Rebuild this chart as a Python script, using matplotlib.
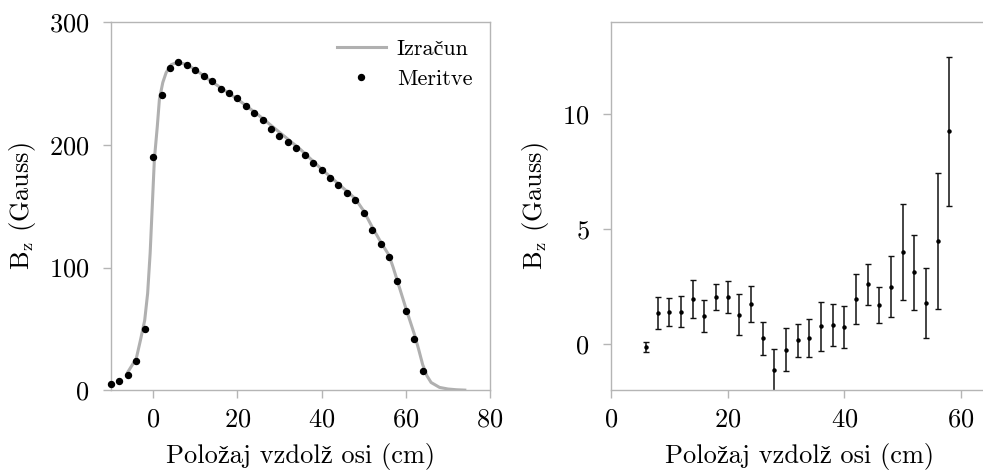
import numpy as np
import matplotlib
matplotlib.use('Agg')
import matplotlib.pyplot as plt

plt.rcParams['font.family'] = ['cmr10', 'Liberation Serif']
plt.rcParams['mathtext.fontset'] = 'cm'
plt.rcParams['axes.formatter.use_mathtext'] = True

# meritve (levo)
pos = [-10, -8, -6, -4, -2, 0, 2, 4, 6, 8, 10, 12, 14, 16, 18, 20, 22, 24, 26, 28,
       30, 32, 34, 36, 38, 40, 42, 44, 46, 48, 50, 52, 54, 56, 58, 60, 62, 64]
bz = [5.0, 7.7, 12.8, 24.0, 50.0, 190, 240, 262, 267, 264.4, 260.3, 256, 251.3, 245,
      241.8, 237.7, 231.5, 226, 219.8, 213, 207.3, 202.2, 197.5, 191.6, 184.8, 179,
      173, 166.8, 160.6, 154.9, 144.6, 130.2, 119.3, 108.2, 89.2, 65, 42.1, 15.8]

# izracun (levo)
pos_calc = [-6, -4, -3, -2, -1.3, -0.7, -0.2, 0.3, 1.0, 1.5, 2.3, 3.1, 4.3, 5.9, 8,
            10, 14, 20, 25, 30, 35, 40, 44, 46, 48, 50, 52, 54, 56, 57, 58, 60, 62,
            63, 64, 65, 66, 68, 70, 72, 74]
bz_calc = [15, 26, 41, 57, 79, 112, 150, 188, 215, 237, 250.5, 258.6, 265, 267, 265,
           261, 251, 237, 224, 210, 196, 180, 168, 162, 156, 146, 133, 121, 110, 100,
           89, 67, 46, 34, 21, 12, 6.5, 2.5, 1.2, 0.6, 0.3]

# razlika (desno)
pos_r = [6, 8, 10, 12, 14, 16, 18, 20, 22, 24, 26, 28, 30, 32, 34, 36, 38, 40, 42,
         44, 46, 48, 50, 52, 54, 56, 58]
bz_r = [-0.11, 1.35, 1.41, 1.42, 1.97, 1.24, 2.04, 2.05, 1.29, 1.74, 0.26, -1.12,
        -0.23, 0.17, 0.27, 0.78, 0.85, 0.75, 1.97, 2.60, 1.71, 2.51, 4.02, 3.13,
        1.81, 4.48, 9.24]
err_r = [0.2, 0.69, 0.6, 0.68, 0.82, 0.7, 0.57, 0.71, 0.9, 0.78, 0.72, 0.9, 0.93,
         0.73, 0.82, 1.05, 0.91, 0.9, 1.1, 0.88, 0.79, 1.33, 2.08, 1.63, 1.52, 2.96,
         3.22]

gray = '#b5b5b5'
fs = 19

fig = plt.figure(figsize=(9.831, 4.751), dpi=100)
ax1 = fig.add_axes([0.1129, 0.1779, 0.3856, 0.7764])
ax2 = fig.add_axes([0.6216, 0.1779, 0.4033, 0.7764])

ax1.plot(pos_calc, bz_calc, color='#b0b0b0', lw=2.2, label='Izračun', zorder=2)
ax1.plot(pos, bz, 'o', color='black', ms=4.3, label='Meritve', zorder=3, clip_on=False)
ax1.set_xlim(-10, 80)
ax1.set_ylim(0, 300)
ax1.set_xticks([0, 20, 40, 60, 80])
ax1.set_yticks([0, 100, 200, 300])
ax1.legend(loc='upper right', frameon=False, fontsize=16, handlelength=2.2,
           borderaxespad=0.4, labelspacing=0.45, handletextpad=0.5)

ax2.errorbar(pos_r, bz_r, yerr=err_r, fmt='o', color='black', ms=2.2, lw=1.1,
             capsize=2.5, capthick=1.0, ecolor='#111111')
ax2.set_xlim(0, 68)
ax2.set_ylim(-2, 14)
ax2.set_xticks([0, 20, 40, 60])
ax2.set_yticks([0, 5, 10])

for ax in (ax1, ax2):
    for s in ax.spines.values():
        s.set_color(gray)
        s.set_linewidth(1.0)
    ax.tick_params(direction='out', length=5.5, width=1, color=gray, labelsize=fs)
    ax.tick_params(axis='x', pad=7)
    ax.tick_params(axis='y', pad=10)
    ax.set_xlabel('Položaj vzdolž osi (cm)', fontsize=fs, labelpad=8)
    ax.set_ylabel(r'$\mathrm{B_z}$ (Gauss)', fontsize=fs, labelpad=8)

# desna slika je obrezana, napis je centriran na vidni del
ax2.xaxis.label.set_x(0.4755)

fig.savefig('out.png', dpi=100)
